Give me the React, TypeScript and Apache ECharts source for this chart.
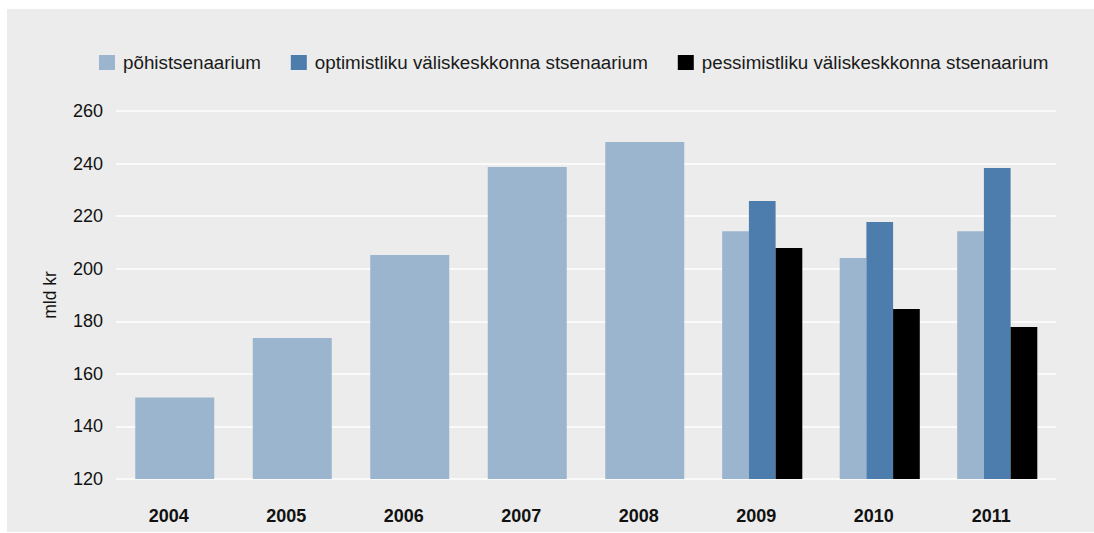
import React, { useEffect, useRef } from "react";
import * as echarts from "echarts";

const years = ["2004", "2005", "2006", "2007", "2008", "2009", "2010", "2011"];
const seriesNames = [
  "põhistsenaarium",
  "optimistliku väliskeskkonna stsenaarium",
  "pessimistliku väliskeskkonna stsenaarium",
];
const baseHistory = [151, 173.6, 205.2, 238.7, 248.2, null, null, null];
const baseScenario = [null, null, null, null, null, 214.3, 204.1, 214.3];
const optimistic = [null, null, null, null, null, 225.8, 217.8, 238.3];
const pessimistic = [null, null, null, null, null, 207.9, 184.7, 177.8];
const yTicks = { min: 120, max: 260, interval: 20 };

const COLORS = ["#9bb5cf", "#4c7dac", "#000000"];
const FONT = "'Liberation Sans', Arial, Helvetica, sans-serif";

export default function App() {
  const ref = useRef<HTMLDivElement>(null);
  useEffect(() => {
    if (!ref.current) return;
    const chart = echarts.init(ref.current, null, { renderer: "svg" });
    const toData = (a: (number | null)[]) => a.map((v) => (v == null ? "-" : v));
    chart.setOption({
      animation: false,
      backgroundColor: "#ffffff",
      textStyle: { fontFamily: FONT },
      graphic: [
        {
          type: "rect",
          z: -10,
          silent: true,
          shape: { x: 7, y: 9, width: 1087, height: 523 },
          style: { fill: "#ebeceb" },
        },
      ],
      legend: {
        data: seriesNames,
        left: 94,
        top: 48,
        itemWidth: 16,
        itemHeight: 15,
        itemGap: 30,
        icon: "rect",
        textStyle: { fontSize: 18.8, color: "#1a1a1a", fontFamily: FONT, padding: [0, 0, 0, 3] },
      },
      grid: { left: 116, right: 38, top: 111, bottom: 54, containLabel: false },
      xAxis: [
        {
          type: "category",
          data: years,
          axisLine: { show: false },
          axisTick: { show: false },
          axisLabel: {
            fontSize: 18,
            fontWeight: "bold",
            color: "#111",
            margin: 28,
            fontFamily: FONT,
            padding: [0, 12, 0, 0],
          },
        },
        {
          type: "category",
          data: years,
          show: false,
        },
      ],
      yAxis: {
        type: "value",
        min: yTicks.min,
        max: yTicks.max,
        interval: yTicks.interval,
        name: "mld kr",
        nameLocation: "middle",
        nameRotate: 90,
        nameGap: 57,
        nameTextStyle: { fontSize: 17.5, color: "#111", fontFamily: FONT },
        axisLine: { show: false },
        axisTick: { show: false },
        axisLabel: { fontSize: 18, color: "#111", margin: 13, fontFamily: FONT },
        splitLine: { show: true, lineStyle: { color: "#ffffff", width: 1.5 } },
      },
      series: [
        {
          name: seriesNames[0],
          type: "bar",
          xAxisIndex: 0,
          data: toData(baseHistory),
          barWidth: 79,
          itemStyle: { color: COLORS[0] },
        },
        {
          name: seriesNames[0],
          type: "bar",
          xAxisIndex: 1,
          data: toData(baseScenario),
          barWidth: 26.7,
          barGap: "0%",
          itemStyle: { color: COLORS[0] },
        },
        {
          name: seriesNames[1],
          type: "bar",
          xAxisIndex: 1,
          data: toData(optimistic),
          barWidth: 26.7,
          barGap: "0%",
          itemStyle: { color: COLORS[1] },
        },
        {
          name: seriesNames[2],
          type: "bar",
          xAxisIndex: 1,
          data: toData(pessimistic),
          barWidth: 26.7,
          barGap: "0%",
          itemStyle: { color: COLORS[2] },
        },
      ],
    });
    return () => chart.dispose();
  }, []);
  return (
    <div
      ref={ref}
      style={{ position: "fixed", left: 0, top: 0, width: 1094, height: 533 }}
    />
  );
}
